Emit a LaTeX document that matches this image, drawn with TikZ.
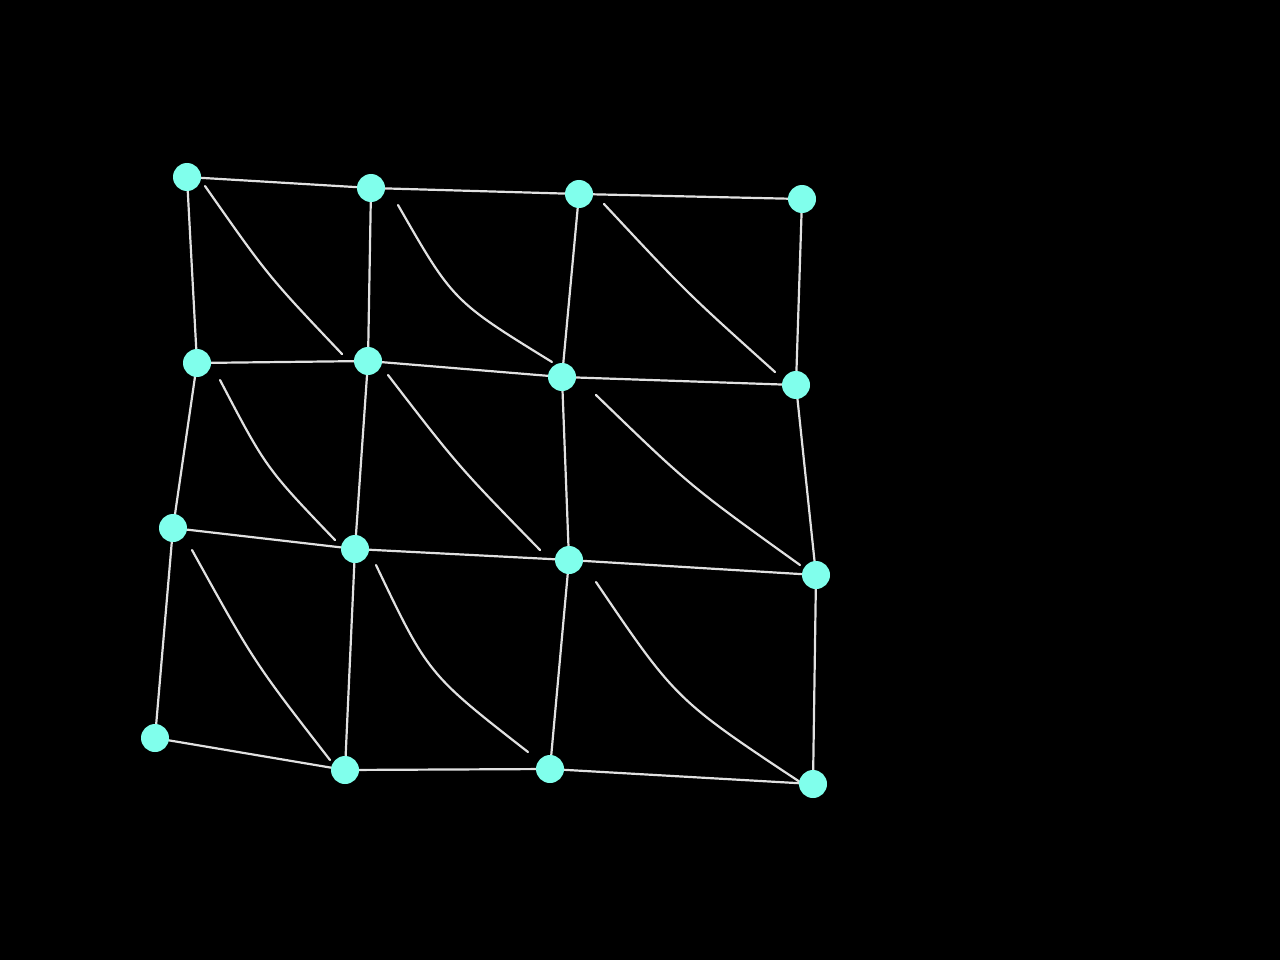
\documentclass[tikz,border=0pt]{standalone}
\begin{document}
\begin{tikzpicture}[x=1pt,y=-1pt,
  dot/.style={circle,fill={rgb,255:red,128;green,255;blue,236},minimum size=28pt,inner sep=0pt},
  edge/.style={draw={rgb,255:red,225;green,225;blue,225},line width=2.2pt,line cap=round},
  stroke/.style={draw={rgb,255:red,225;green,225;blue,225},line width=2.2pt,line cap=round}]
\fill[black] (0,0) rectangle (1280,960);
\useasboundingbox (0,0) rectangle (1280,960);
% node positions
\coordinate (p00) at (187,177); \coordinate (p01) at (371,188); \coordinate (p02) at (579,194); \coordinate (p03) at (802,199);
\coordinate (p10) at (197,363); \coordinate (p11) at (368,361); \coordinate (p12) at (562,377); \coordinate (p13) at (796,385);
\coordinate (p20) at (173,528); \coordinate (p21) at (355,549); \coordinate (p22) at (569,560); \coordinate (p23) at (816,575);
\coordinate (p30) at (155,738); \coordinate (p31) at (345,770); \coordinate (p32) at (550,769); \coordinate (p33) at (813,784);
% grid edges
\foreach \r in {0,1,2,3}{
  \draw[edge] (p\r0) -- (p\r1) -- (p\r2) -- (p\r3);
}
\foreach \c in {0,1,2,3}{
  \draw[edge] (p0\c) -- (p1\c) -- (p2\c) -- (p3\c);
}
% diagonal strokes
\coordinate (a00) at (205,186); \coordinate (b00) at (342,354);
\coordinate (a01) at (398,205); \coordinate (b01) at (552,362);
\coordinate (a02) at (604,204); \coordinate (b02) at (775,372);
\coordinate (a10) at (220,380); \coordinate (b10) at (335,540);
\coordinate (a11) at (388,375); \coordinate (b11) at (540,550);
\coordinate (a12) at (596,395); \coordinate (b12) at (800,565);
\coordinate (a20) at (192,550); \coordinate (b20) at (330,760);
\coordinate (a21) at (376,565); \coordinate (b21) at (528,752);
\coordinate (a22) at (596,582); \coordinate (b22) at (806,786);
\draw[stroke] (a00) .. controls (268,276) .. (b00);
\draw[stroke] (a01) .. controls (453,301) .. (b01);
\draw[stroke] (a02) .. controls (686,292) .. (b02);
\draw[stroke] (a10) .. controls (266,468) .. (b10);
\draw[stroke] (a11) .. controls (458,466) .. (b11);
\draw[stroke] (a12) .. controls (690,486) .. (b12);
\draw[stroke] (a20) .. controls (254,662) .. (b20);
\draw[stroke] (a21) .. controls (428,674) .. (b21);
\draw[stroke] (a22) .. controls (676,700) .. (b22);
% nodes
\foreach \r in {0,1,2,3}{
  \foreach \c in {0,1,2,3}{
    \node[dot] (n\r\c) at (p\r\c) {};
  }
}
\end{tikzpicture}
\end{document}
